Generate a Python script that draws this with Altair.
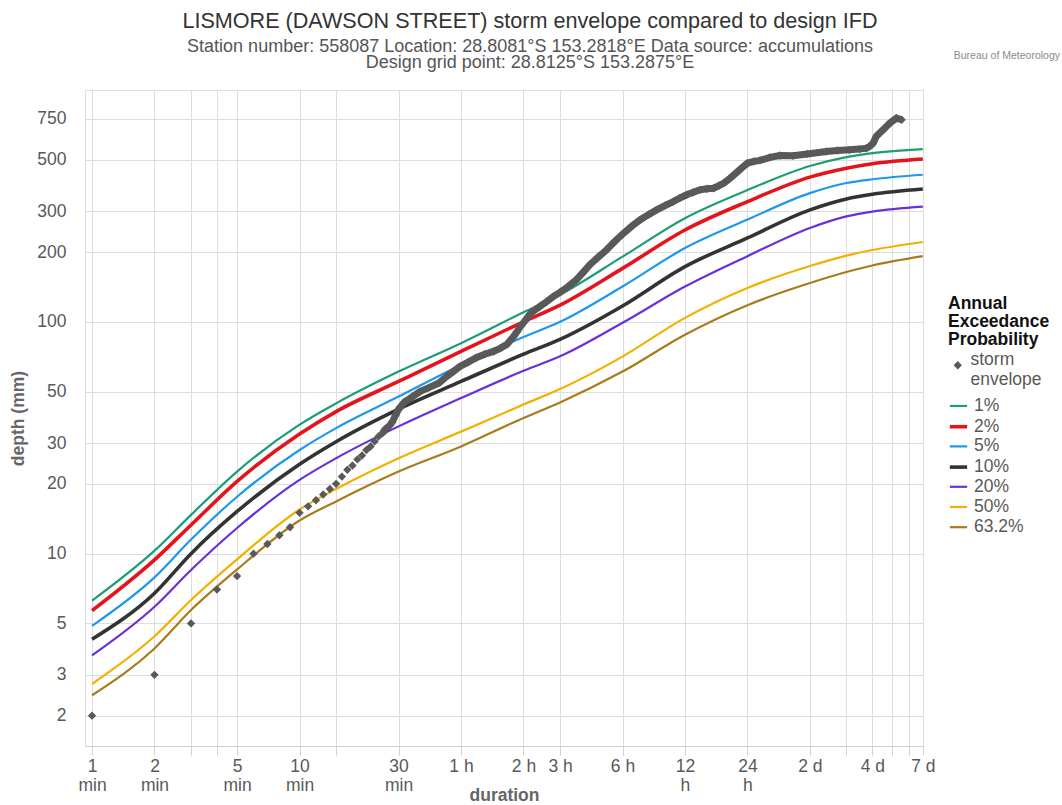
import altair as alt
import pandas as pd

FONT = "Liberation Sans"

# ---- design IFD depths (mm) by duration (minutes) ----
ifd_durations = [1, 2, 3, 5, 10, 15, 30, 60, 120, 180, 360, 720, 1440, 2880, 4320, 5760, 10080]
aep_1 = [6.27, 10.3, 14.7, 22.6, 36.0, 44.5, 61.0, 80.9, 110, 131, 191, 280, 370, 470, 513, 534, 556]
aep_2 = [5.68, 9.4, 13.3, 20.5, 32.8, 41.0, 55.3, 74.5, 100, 118, 170, 249, 330, 421, 460, 481, 504]
aep_5 = [4.88, 7.9, 11.5, 17.6, 28.0, 34.8, 47.6, 65.2, 86, 100, 142, 208, 276, 359, 397, 412, 431]
aep_10 = [4.27, 6.75, 10.0, 15.2, 24.3, 30.4, 42.0, 55.3, 72.5, 84, 117, 173, 230, 304, 339, 355, 374]
aep_20 = [3.64, 5.9, 8.5, 12.9, 20.8, 25.8, 35.4, 46.9, 61.5, 71, 99, 142, 192, 254, 285, 299, 314]
aep_50 = [2.74, 4.4, 6.31, 9.45, 15.5, 19.0, 25.8, 33.6, 44, 51.3, 70.8, 104, 140, 174, 193, 204, 221]
aep_632 = [2.45, 3.9, 5.71, 8.55, 13.9, 16.8, 22.6, 29.0, 38.5, 44.9, 61, 88, 118, 147, 164, 175, 192]

aep_levels = ["1%", "2%", "5%", "10%", "20%", "50%", "63.2%"]
aep_series = [aep_1, aep_2, aep_5, aep_10, aep_20, aep_50, aep_632]
aep_colors = ["#1b9e74", "#e3141c", "#1d97ef", "#333333", "#6a2fdc", "#f2b100", "#a97b1c"]
aep_widths = [2.2, 3.6, 2.2, 3.6, 2.2, 2.2, 2.2]

# ---- storm envelope: max accumulated depth (mm) per duration (minutes) ----
env_durations = [1, 2, 3, 4, 5, 6, 7, 8, 9, 10, 11, 12, 13, 14, 15, 16, 17, 18, 19, 20,
                 21, 22, 23, 24, 25, 26, 27, 28, 29, 30, 32, 35, 38, 42, 47, 51, 55, 59,
                 65, 71, 78, 86, 93, 100, 107, 112, 116, 123, 130, 137, 144, 155, 167,
                 180, 197, 216, 232, 250, 275, 301, 330, 364, 400, 437, 480, 526, 580,
                 632, 680, 733, 790, 850, 920, 990, 1050, 1109, 1175, 1242, 1340, 1444,
                 1550, 1655, 1850, 2059, 2389, 2800, 3458, 3900, 4467, 5000, 5393, 5600,
                 5807, 6025, 6250, 6486, 6750, 6986, 7250, 7527, 7970]
env_depths = [2, 3, 5, 7, 8, 10, 11, 12, 13, 15, 16, 17, 18, 19, 20, 21.5, 23, 24, 25.5, 26.5,
              28, 29, 30.5, 32, 33, 34.5, 35.5, 37, 39.5, 42, 45, 47.5, 50, 52, 54.5, 58, 61, 64,
              67, 70, 72.5, 74.5, 77, 80, 86, 91, 95.5, 102, 109, 113, 116.5, 122, 128.5,
              134, 142, 152, 163, 176, 190, 204, 222, 241, 259, 275, 290, 304, 318,
              330, 342, 353, 362, 371, 375, 377, 387, 397, 413, 431, 458, 484,
              492, 497, 512, 522, 520, 530, 543, 548, 552, 556, 561, 572,
              590, 632, 652, 673, 697, 719, 738, 756, 744]

# ---- axis ticks ----
x_tick_values = [1, 2, 3, 4, 5, 10, 15, 30, 60, 120, 180, 360, 720, 1440, 2880, 4320,
                 5760, 7200, 8640, 10080]
x_tick_labels = [["1", "min"], ["2", "min"], "", "", ["5", "min"], ["10", "min"], "",
                 ["30", "min"], "1 h", "2 h", "3 h", "6 h", ["12", "h"], ["24", "h"],
                 "2 d", "", "4 d", "", "", "7 d"]
y_tick_values = [2, 3, 5, 10, 20, 30, 50, 100, 200, 300, 500, 750]


def js_literal(label):
    if isinstance(label, list):
        return "[" + ",".join("'%s'" % s for s in label) + "]"
    return "'%s'" % label


x_label_expr = "''"
for v, lab in reversed(list(zip(x_tick_values, x_tick_labels))):
    x_label_expr = "datum.value == %s ? %s : (%s)" % (v, js_literal(lab), x_label_expr)

ifd_df = pd.DataFrame(
    [{"duration": d, "depth": v, "series": name}
     for name, vals in zip(aep_levels, aep_series)
     for d, v in zip(ifd_durations, vals)]
)
env_df = pd.DataFrame({"duration": env_durations, "depth": env_depths,
                       "series": ["storm envelope"] * len(env_durations)})
credit_df = pd.DataFrame({"credit": ["Bureau of Meteorology"]})

GRID = "#dedede"
LABEL = "#595959"

x_enc = alt.X(
    "duration:Q",
    scale=alt.Scale(type="log", domain=[0.925, 10100], nice=False),
    axis=alt.Axis(
        values=x_tick_values, labelExpr=x_label_expr, title="duration",
        titleFont=FONT, titleFontSize=17.5, titleFontWeight="bold", titleColor="#666666",
        titleY=49, titleBaseline="middle",
        labelFont=FONT, labelFontSize=17.5, labelColor=LABEL, labelLineHeight=19,
        labelPadding=2, labelOverlap=False, labelFlush=False, labelBound=False,
        tickSize=9, tickColor="#d0d0d0", domainColor="#d0d0d0", gridColor=GRID,
    ),
)
y_enc = alt.Y(
    "depth:Q",
    scale=alt.Scale(type="log", domain=[1.48, 1000], nice=False),
    axis=alt.Axis(
        values=y_tick_values, format="d", title="depth (mm)",
        titleFont=FONT, titleFontSize=17.5, titleFontWeight="bold", titleColor="#666666",
        titleX=-67, titleY=328, titleBaseline="middle", titleAngle=270,
        labelFont=FONT, labelFontSize=17.5, labelColor=LABEL, labelPadding=19,
        labelOverlap=False, labelFlush=False, ticks=False, domain=False, gridColor=GRID,
    ),
)

ifd_lines = alt.Chart(ifd_df).mark_line(interpolate="monotone").encode(
    x=x_enc,
    y=y_enc,
    color=alt.Color(
        "series:N",
        scale=alt.Scale(domain=aep_levels, range=aep_colors),
        legend=alt.Legend(
            title=None, orient="none", legendX=863, legendY=306,
            symbolType="stroke", symbolSize=300, symbolStrokeWidth=3,
            labelFont=FONT, labelFontSize=17.5, labelColor=LABEL, labelOffset=5,
            rowPadding=1.2,
        ),
    ),
    strokeWidth=alt.StrokeWidth(
        "series:N",
        scale=alt.Scale(type="ordinal", domain=aep_levels, range=aep_widths),
        legend=None,
    ),
)

env_band = alt.Chart(env_df).transform_filter("datum.duration >= 25").mark_line(
    color="#595959", strokeWidth=7
).encode(x="duration:Q", y="depth:Q")

env_points = alt.Chart(env_df).mark_point(
    shape="diamond", filled=True, size=70, color="#595959", opacity=1
).encode(
    x="duration:Q",
    y="depth:Q",
    shape=alt.Shape(
        "series:N",
        scale=alt.Scale(domain=["storm envelope"], range=["diamond"]),
        legend=alt.Legend(
            title=["Annual", "Exceedance", "Probability"], orient="none",
            legendX=863, legendY=205,
            titleFont=FONT, titleFontSize=17.5, titleFontWeight="bold", titleColor="#111111",
            titleLineHeight=18, titlePadding=8,
            labelFont=FONT, labelFontSize=17.5, labelColor=LABEL, labelOffset=4,
            labelBaseline="alphabetic",
            labelExpr="datum.label == 'storm envelope' ? ['storm', 'envelope'] : datum.label",
            symbolSize=70, symbolFillColor="#595959", symbolStrokeWidth=0, symbolOffset=1,
        ),
    ),
)

credit = alt.Chart(credit_df).mark_text(
    align="right", baseline="middle", font=FONT, fontSize=10.5, color="#8a8a8a"
).encode(text="credit:N", x=alt.value(975), y=alt.value(-34))

chart = alt.layer(ifd_lines, env_band, env_points, credit).properties(
    width=838,
    height=656,
    autosize="none",
    padding={"left": 85, "top": 90, "right": 139, "bottom": 59},
    title=alt.TitleParams(
        text="LISMORE (DAWSON STREET) storm envelope compared to design IFD",
        subtitle=["Station number: 558087 Location: 28.8081°S 153.2818°E Data source: accumulations",
                  "Design grid point: 28.8125°S 153.2875°E"],
        anchor="middle", dx=26, dy=41, offset=20,
        font=FONT, fontSize=21.6, fontWeight="normal", color="#333333",
        subtitleFont=FONT, subtitleFontSize=18, subtitleColor="#555555",
        subtitleLineHeight=16.5, subtitlePadding=5,
    ),
).configure_view(stroke=None).configure(background="white")

chart.save("out.html", embed_options={"renderer": "svg", "actions": False})
